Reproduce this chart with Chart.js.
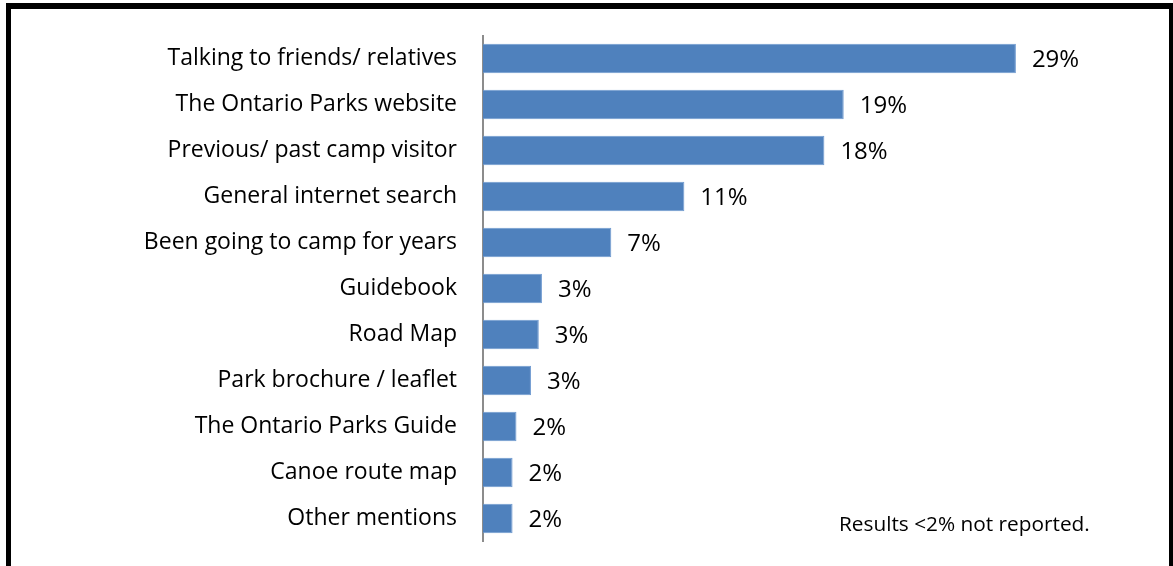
<!DOCTYPE html>
<html>
<head>
<meta charset="utf-8">
<script src="https://cdn.jsdelivr.net/npm/chart.js@4"></script>
<style>
  html, body { margin: 0; padding: 0; background: #fff; }
  #frame {
    position: absolute; left: 6px; top: 3px; width: 1158px; height: 600px;
    border-left: 5px solid #000; border-top: 6px solid #000; border-right: 4px solid #000;
  }
  #wrap { position: absolute; left: 0; top: 0; width: 1173px; height: 566px; }
  #note {
    position: absolute; left: 839px; top: 509px; line-height: 28px;
    font-family: "Open Sans", sans-serif; font-size: 20.8px; color: #000;
  }
</style>
</head>
<body>
<div id="frame"></div>
<div id="wrap"><canvas id="chart" width="1173" height="566"></canvas></div>
<div id="note">Results &lt;2% not reported.</div>
<script>
const categories = [
  "Talking to friends/ relatives",
  "The Ontario Parks website",
  "Previous/ past camp visitor",
  "General internet search",
  "Been going to camp for years",
  "Guidebook",
  "Road Map",
  "Park brochure / leaflet",
  "The Ontario Parks Guide",
  "Canoe route map",
  "Other mentions"
];
// bar lengths
const values = [28.66, 19.4, 18.36, 10.83, 6.9, 3.17, 3.0, 2.58, 1.8, 1.59, 1.59];
// labels printed next to the bars
const valueLabels = ["29%", "19%", "18%", "11%", "7%", "3%", "3%", "3%", "2%", "2%", "2%"];

const labelFont = "'Open Sans', sans-serif";

const barLabels = {
    id: "barLabels",
    afterDatasetsDraw(chart) {
        const ctx = chart.ctx;
        const meta = chart.getDatasetMeta(0);
        ctx.save();
        ctx.font = "24px " + labelFont;
        ctx.fillStyle = "#000";
        ctx.textAlign = "left";
        ctx.textBaseline = "middle";
        meta.data.forEach((bar, i) => {
            ctx.fillText(valueLabels[i], bar.x + 16, bar.y + 2);
        });
        ctx.restore();
    }
};

new Chart(document.getElementById("chart").getContext("2d"), {
    type: "bar",
    data: {
        labels: categories,
        datasets: [
            {
                data: values,
                backgroundColor: "#4F81BD",
                borderColor: "#6F9AD0",
                borderWidth: 1,
                borderSkipped: "left",
                barPercentage: 0.64,
                categoryPercentage: 1,
            },
        ],
    },
    options: {
        indexAxis: "y",
        responsive: false,
        animation: false,
        layout: {
            padding: { left: 0, right: 95, top: 35.5, bottom: 24.5 },
        },
        scales: {
            x: {
                display: false,
                min: 0,
                max: 32,
            },
            y: {
                afterFit: (scale) => {
                    scale.width = 483;
                    scale.paddingTop = 0;
                    scale.paddingBottom = 0;
                },
                grid: { display: false, drawTicks: false },
                border: { display: true, color: "#8C8C8C", width: 2 },
                ticks: {
                    color: "#000",
                    padding: 26,
                    font: { family: labelFont, size: 23 },
                },
            },
        },
        plugins: {
            legend: { display: false },
            tooltip: { enabled: false },
        },
    },
    plugins: [barLabels],
});
</script>
</body>
</html>
